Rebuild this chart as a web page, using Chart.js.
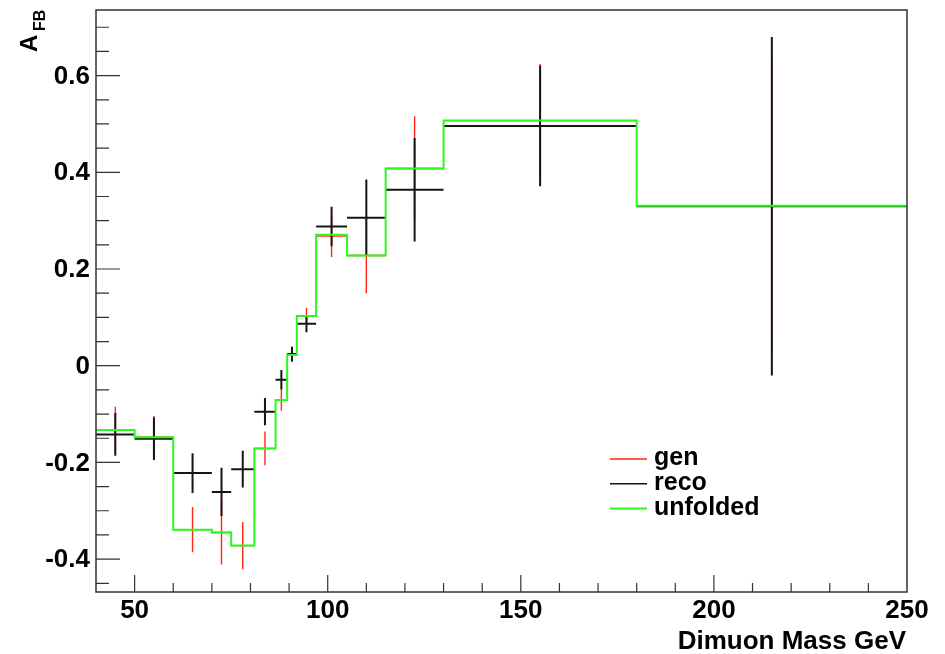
<!DOCTYPE html>
<html>
<head>
<meta charset="utf-8">
<script src="https://cdn.jsdelivr.net/npm/chart.js@4.4.0/dist/chart.umd.min.js"></script>
<style>
  html, body { margin: 0; padding: 0; background: #fff; }
  #wrap { width: 945px; height: 654px; }
</style>
</head>
<body>
<div id="wrap"><canvas id="afbChart" width="945" height="654"></canvas></div>
<script>
// mass bins (GeV) and A_FB per bin
const binEdges = [40, 50, 60, 70, 75, 81, 86.5, 89.5, 92, 97, 105, 115, 130, 180, 250];
const genValues = [-0.133, -0.148, -0.339, -0.345, -0.372, -0.171, -0.071, 0.022, 0.103, 0.268, 0.228, 0.408, 0.507, 0.331];
const genErrors = [0.048, 0.044, 0.047, 0.066, 0.049, 0.035, 0.022, 0.015, 0.017, 0.043, 0.078, 0.108, 0.117, 0.30];
const recoValues = [-0.142, -0.151, -0.222, -0.261, -0.214, -0.095, -0.029, 0.024, 0.087, 0.288, 0.306, 0.364, 0.496, 0.330];
const recoErrors = [0.044, 0.044, 0.041, 0.050, 0.038, 0.028, 0.020, 0.015, 0.018, 0.041, 0.079, 0.107, 0.125, 0.35];
const unfoldedValues = [-0.133, -0.148, -0.339, -0.345, -0.372, -0.171, -0.071, 0.022, 0.103, 0.271, 0.228, 0.408, 0.507, 0.331];
const xTickLabels = [50, 100, 150, 200, 250];
const yTickLabels = [-0.4, -0.2, 0, 0.2, 0.4, 0.6];

const RED = 'rgb(255,40,20)';
const BLACK = '#151515';
const GREEN = 'rgb(40,250,30)';
const FONT = '"Liberation Sans", Arial, Helvetica, sans-serif';

// error-bar crosses as broken line segments (null y breaks the path)
function crossPoints(values, errors) {
    const pts = [];
    values.forEach((v, i) => {
        const lo = binEdges[i], hi = binEdges[i + 1], c = (lo + hi) / 2;
        pts.push({ x: lo, y: v }, { x: hi, y: v }, { x: c, y: null });
        pts.push({ x: c, y: v - errors[i] }, { x: c, y: v + errors[i] }, { x: c, y: null });
    });
    return pts;
}

// histogram outline: one point per left edge plus the last right edge
const unfoldedSteps = binEdges.map((e, i) => ({
    x: e,
    y: unfoldedValues[Math.min(i, unfoldedValues.length - 1)]
}));

// frame, inward ticks, labels and legend in ROOT style
const rootFrame = {
    id: 'rootFrame',
    afterDatasetsDraw(chart) {
        const { ctx, chartArea: a, scales: { x, y } } = chart;
        ctx.save();
        ctx.strokeStyle = '#333';
        ctx.lineWidth = 1.5;
        ctx.strokeRect(a.left, a.top, a.right - a.left, a.bottom - a.top);

        ctx.lineWidth = 1.2;
        ctx.beginPath();
        for (let k = -9; k <= 14; k++) {
            const py = y.getPixelForValue(k * 0.05);
            const len = (k % 4 === 0) ? 24 : 13;
            ctx.moveTo(a.left, py);
            ctx.lineTo(a.left + len, py);
        }
        for (let m = 50; m < 250; m += 10) {
            const px = x.getPixelForValue(m);
            const len = (m % 50 === 0) ? 17 : 9;
            ctx.moveTo(px, a.bottom);
            ctx.lineTo(px, a.bottom - len);
        }
        ctx.stroke();

        ctx.fillStyle = '#000';
        ctx.font = 'bold 26px ' + FONT;
        ctx.textAlign = 'right';
        ctx.textBaseline = 'middle';
        yTickLabels.forEach(v => {
            ctx.fillText(v === 0 ? '0' : String(v), a.left - 6, y.getPixelForValue(v) + 1);
        });
        ctx.textAlign = 'center';
        ctx.textBaseline = 'alphabetic';
        xTickLabels.forEach(v => {
            ctx.fillText(String(v), x.getPixelForValue(v), a.bottom + 26);
        });

        // axis titles
        ctx.textAlign = 'right';
        ctx.fillText('Dimuon Mass GeV', a.right - 1, 649);
        ctx.save();
        ctx.translate(37, 52);
        ctx.rotate(-Math.PI / 2);
        ctx.textAlign = 'left';
        ctx.font = 'bold 24px ' + FONT;
        ctx.fillText('A', 0, 0);
        ctx.font = 'bold 16px ' + FONT;
        ctx.fillText('FB', 21, 8);
        ctx.restore();

        // legend
        const entries = [['gen', RED], ['reco', BLACK], ['unfolded', GREEN]];
        ctx.font = 'bold 25px ' + FONT;
        ctx.textAlign = 'left';
        entries.forEach(([label, color], i) => {
            const ly = 459 + i * 24.8;
            ctx.strokeStyle = color;
            ctx.lineWidth = color === GREEN ? 2 : 1.4;
            ctx.beginPath();
            ctx.moveTo(610, ly);
            ctx.lineTo(647, ly);
            ctx.stroke();
            ctx.fillStyle = '#000';
            ctx.fillText(label, 654, ly + 6);
        });
        ctx.restore();
    }
};

new Chart(document.getElementById('afbChart'), {
    type: 'line',
    data: {
        datasets: [
            {
                label: 'unfolded',
                data: unfoldedSteps,
                stepped: 'before',
                borderColor: GREEN,
                borderWidth: 2,
                pointRadius: 0,
                fill: false,
                order: 1
            },
            {
                label: 'reco',
                data: crossPoints(recoValues, recoErrors),
                borderColor: BLACK,
                borderWidth: 2,
                pointRadius: 0,
                spanGaps: false,
                fill: false,
                order: 2
            },
            {
                label: 'gen',
                data: crossPoints(genValues, genErrors),
                borderColor: RED,
                borderWidth: 1.4,
                pointRadius: 0,
                spanGaps: false,
                fill: false,
                order: 3
            }
        ]
    },
    options: {
        responsive: false,
        animation: false,
        layout: { padding: { left: 96, right: 38, top: 10, bottom: 62 } },
        scales: {
            x: { type: 'linear', min: 40, max: 250, display: false },
            y: { type: 'linear', min: -0.468, max: 0.7357, display: false }
        },
        plugins: {
            legend: { display: false },
            tooltip: { enabled: false }
        }
    },
    plugins: [rootFrame]
});
</script>
</body>
</html>
